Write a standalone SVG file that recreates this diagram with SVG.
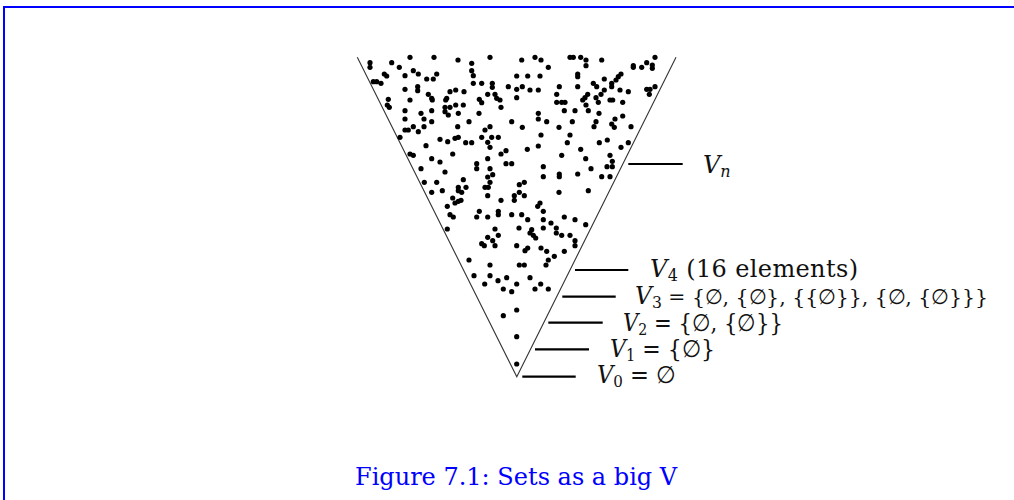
<svg xmlns="http://www.w3.org/2000/svg" width="1014" height="500" viewBox="0 0 1014 500">
<style>
.frame{fill:none;stroke:#0000ff;stroke-width:2}
.v{fill:none;stroke:#333;stroke-width:1.1}
.lead{stroke:#000;stroke-width:2.2}
.lbl{font-family:"DejaVu Serif",serif;font-size:24px;fill:#111}
.it{font-style:italic}
.sub{font-size:16px}
.cap{font-family:"DejaVu Serif",serif;font-size:24px;fill:#0000ff}
</style>
<defs><circle id="d" r="2.6" fill="#000"/></defs>
<rect width="1014" height="500" fill="#fff"/>
<path class="frame" d="M4,500 V7 H1014"/>
<g id="v-shape">
<polyline class="v" points="357.3,57.3 516.8,376.8 676,57.3"/>
<g class="dots">
<use href="#d" x="410" y="57.3"/><use href="#d" x="434" y="57.3"/><use href="#d" x="458" y="60"/><use href="#d" x="490" y="57.3"/>
<use href="#d" x="370" y="62.7"/><use href="#d" x="370" y="67.3"/><use href="#d" x="391.7" y="62.7"/><use href="#d" x="399.3" y="67.3"/>
<use href="#d" x="413.3" y="70.7"/><use href="#d" x="418.3" y="74"/><use href="#d" x="405" y="75.7"/><use href="#d" x="436.7" y="74"/>
<use href="#d" x="426.7" y="79"/><use href="#d" x="433.3" y="79"/><use href="#d" x="384.3" y="74"/><use href="#d" x="386.7" y="76"/>
<use href="#d" x="373.3" y="81.7"/><use href="#d" x="376.7" y="81.7"/><use href="#d" x="381" y="83.3"/><use href="#d" x="471.7" y="63.3"/>
<use href="#d" x="471.7" y="70.7"/><use href="#d" x="473.3" y="75.7"/><use href="#d" x="473.3" y="83.3"/><use href="#d" x="481.7" y="83.3"/>
<use href="#d" x="492.3" y="83.3"/><use href="#d" x="492.3" y="87.3"/><use href="#d" x="508.3" y="86.7"/><use href="#d" x="405" y="89.3"/>
<use href="#d" x="417.7" y="86.7"/><use href="#d" x="417.7" y="90.7"/><use href="#d" x="428.3" y="94.3"/><use href="#d" x="431.7" y="98.3"/>
<use href="#d" x="432.3" y="100"/><use href="#d" x="450" y="91.7"/><use href="#d" x="455.7" y="90"/><use href="#d" x="464" y="91.7"/>
<use href="#d" x="446.7" y="98.3"/><use href="#d" x="445.7" y="100"/><use href="#d" x="487.7" y="94.3"/><use href="#d" x="495" y="94.3"/>
<use href="#d" x="496.7" y="98.3"/><use href="#d" x="500" y="100"/><use href="#d" x="479.3" y="99.3"/><use href="#d" x="481.7" y="102.7"/>
<use href="#d" x="388.3" y="99.3"/><use href="#d" x="387.3" y="105"/><use href="#d" x="389.3" y="107.3"/><use href="#d" x="410" y="100"/>
<use href="#d" x="455.7" y="105"/><use href="#d" x="463.3" y="105"/><use href="#d" x="445" y="107.3"/><use href="#d" x="450" y="107.3"/>
<use href="#d" x="445" y="111.7"/><use href="#d" x="501" y="107.3"/><use href="#d" x="405" y="110.7"/><use href="#d" x="421" y="113.3"/>
<use href="#d" x="431.7" y="110.7"/><use href="#d" x="448.3" y="115"/><use href="#d" x="458.3" y="113.3"/><use href="#d" x="479" y="113.3"/>
<use href="#d" x="405" y="119"/><use href="#d" x="424" y="119"/><use href="#d" x="431.7" y="121.7"/><use href="#d" x="469" y="121.7"/>
<use href="#d" x="511.7" y="121.7"/><use href="#d" x="457.7" y="126.7"/><use href="#d" x="413.3" y="126.7"/><use href="#d" x="424" y="126.7"/>
<use href="#d" x="405" y="130"/><use href="#d" x="408.3" y="130"/><use href="#d" x="418.3" y="131.7"/><use href="#d" x="485" y="130"/>
<use href="#d" x="490" y="126.7"/><use href="#d" x="455" y="138.3"/><use href="#d" x="458.3" y="137.3"/><use href="#d" x="440" y="139.3"/>
<use href="#d" x="447.7" y="141.7"/><use href="#d" x="465.7" y="142.7"/><use href="#d" x="471.7" y="142.7"/><use href="#d" x="481.7" y="137.3"/>
<use href="#d" x="487.7" y="142.3"/><use href="#d" x="491.7" y="137.3"/><use href="#d" x="498.3" y="137.3"/><use href="#d" x="490" y="147.3"/>
<use href="#d" x="426" y="145.7"/><use href="#d" x="400" y="137.3"/>
<use href="#d" x="521.7" y="60"/><use href="#d" x="535" y="57.3"/><use href="#d" x="541" y="60"/><use href="#d" x="548.3" y="67.3"/>
<use href="#d" x="570" y="57.3"/><use href="#d" x="573.3" y="57.3"/><use href="#d" x="580.7" y="57.3"/><use href="#d" x="586" y="60"/>
<use href="#d" x="586" y="65.7"/><use href="#d" x="601.7" y="60"/><use href="#d" x="633.3" y="65.7"/><use href="#d" x="633.3" y="67.3"/>
<use href="#d" x="641.7" y="67.3"/><use href="#d" x="646.7" y="62.7"/><use href="#d" x="652.3" y="65"/><use href="#d" x="652.3" y="68.3"/>
<use href="#d" x="655" y="57.3"/><use href="#d" x="516.7" y="76"/><use href="#d" x="527.7" y="76"/><use href="#d" x="540" y="76"/>
<use href="#d" x="577.7" y="74"/><use href="#d" x="577.7" y="76.7"/><use href="#d" x="604.3" y="79"/><use href="#d" x="621" y="74"/>
<use href="#d" x="618.3" y="76.7"/><use href="#d" x="616" y="80"/><use href="#d" x="516.7" y="89.3"/><use href="#d" x="522.3" y="86.7"/>
<use href="#d" x="530" y="90"/><use href="#d" x="538.3" y="90"/><use href="#d" x="559.3" y="86.7"/><use href="#d" x="577.7" y="86.7"/>
<use href="#d" x="593.3" y="83.3"/><use href="#d" x="596.7" y="86.7"/><use href="#d" x="611.7" y="83.3"/><use href="#d" x="611.7" y="86.7"/>
<use href="#d" x="604.3" y="90"/><use href="#d" x="620" y="90"/><use href="#d" x="628.3" y="91.7"/><use href="#d" x="646.7" y="89.3"/>
<use href="#d" x="650" y="89.3"/><use href="#d" x="655" y="86.7"/><use href="#d" x="649.3" y="94.3"/><use href="#d" x="516.7" y="97.7"/>
<use href="#d" x="556.7" y="94.3"/><use href="#d" x="587.7" y="94.3"/><use href="#d" x="585" y="97.7"/><use href="#d" x="582.7" y="100"/>
<use href="#d" x="601" y="94.3"/><use href="#d" x="596" y="97.7"/><use href="#d" x="610" y="100"/><use href="#d" x="612.7" y="100"/>
<use href="#d" x="556.7" y="102.3"/><use href="#d" x="561.7" y="102.3"/><use href="#d" x="565" y="102.3"/><use href="#d" x="586" y="105"/>
<use href="#d" x="598.3" y="102.3"/><use href="#d" x="622.7" y="102.3"/><use href="#d" x="564.3" y="110.7"/><use href="#d" x="575" y="110.7"/>
<use href="#d" x="588.3" y="110.7"/><use href="#d" x="538.3" y="113.3"/><use href="#d" x="538.3" y="119"/><use href="#d" x="546.7" y="121.7"/>
<use href="#d" x="572.3" y="121.7"/><use href="#d" x="596" y="121.7"/><use href="#d" x="599" y="113.3"/><use href="#d" x="615" y="119"/>
<use href="#d" x="622.7" y="116"/><use href="#d" x="611.7" y="124"/><use href="#d" x="614.3" y="127.3"/><use href="#d" x="522.3" y="127.3"/>
<use href="#d" x="559" y="127.3"/><use href="#d" x="594" y="126.7"/><use href="#d" x="631" y="126.7"/><use href="#d" x="570" y="135"/>
<use href="#d" x="541" y="135"/><use href="#d" x="567.3" y="142.7"/><use href="#d" x="599.3" y="142.7"/><use href="#d" x="607.3" y="140"/>
<use href="#d" x="628.3" y="142.7"/><use href="#d" x="538.3" y="146"/><use href="#d" x="621" y="147.3"/><use href="#d" x="527.3" y="149.3"/>
<use href="#d" x="580.7" y="149.3"/>
<use href="#d" x="410" y="154"/><use href="#d" x="413.3" y="155.3"/><use href="#d" x="452.7" y="154"/><use href="#d" x="431.7" y="158.7"/>
<use href="#d" x="440" y="162"/><use href="#d" x="421" y="168.7"/><use href="#d" x="445" y="172"/><use href="#d" x="476.7" y="163.7"/>
<use href="#d" x="476.7" y="168.7"/><use href="#d" x="487.7" y="158.7"/><use href="#d" x="490" y="168.7"/><use href="#d" x="492.7" y="174.7"/>
<use href="#d" x="487.7" y="177"/><use href="#d" x="490" y="182.3"/><use href="#d" x="501" y="154"/><use href="#d" x="506" y="150.7"/>
<use href="#d" x="506" y="163.7"/><use href="#d" x="511.7" y="163.7"/><use href="#d" x="424.3" y="182.3"/><use href="#d" x="436.7" y="182.3"/>
<use href="#d" x="431.7" y="192.3"/><use href="#d" x="442.3" y="190.7"/><use href="#d" x="463.3" y="179.7"/><use href="#d" x="458.3" y="187.3"/>
<use href="#d" x="458.3" y="190.7"/><use href="#d" x="466" y="187.3"/><use href="#d" x="461.7" y="192.3"/><use href="#d" x="485" y="187.3"/>
<use href="#d" x="488.3" y="187.3"/><use href="#d" x="487.7" y="195.7"/><use href="#d" x="452.7" y="198"/><use href="#d" x="458.3" y="201.3"/>
<use href="#d" x="455" y="203"/><use href="#d" x="461" y="200.3"/><use href="#d" x="501" y="200.3"/><use href="#d" x="514.3" y="195.7"/>
<use href="#d" x="514.3" y="200.3"/><use href="#d" x="447.3" y="206.3"/><use href="#d" x="450" y="214.7"/><use href="#d" x="453.3" y="217"/>
<use href="#d" x="476.7" y="217"/><use href="#d" x="479.3" y="211.3"/><use href="#d" x="487.7" y="217"/><use href="#d" x="498.3" y="211.3"/>
<use href="#d" x="498.3" y="214.7"/><use href="#d" x="511.7" y="214.7"/><use href="#d" x="447.3" y="229"/><use href="#d" x="495" y="229"/>
<use href="#d" x="519" y="228"/><use href="#d" x="498.3" y="235.3"/><use href="#d" x="487.7" y="237.3"/><use href="#d" x="492.7" y="240.7"/>
<use href="#d" x="481.7" y="243.7"/><use href="#d" x="484.3" y="245.7"/><use href="#d" x="495" y="245.7"/><use href="#d" x="516.7" y="245.7"/>
<use href="#d" x="561.7" y="155.3"/><use href="#d" x="585.7" y="158.7"/><use href="#d" x="610" y="155.3"/><use href="#d" x="612.3" y="161.3"/>
<use href="#d" x="607" y="166.7"/><use href="#d" x="612.3" y="166.7"/><use href="#d" x="591" y="168.7"/><use href="#d" x="543.3" y="166.7"/>
<use href="#d" x="543.3" y="176.7"/><use href="#d" x="559.3" y="174"/><use href="#d" x="559.3" y="176.7"/><use href="#d" x="577.7" y="174"/>
<use href="#d" x="601.7" y="176.7"/><use href="#d" x="610" y="176.7"/><use href="#d" x="519.3" y="184.7"/><use href="#d" x="524.3" y="182.3"/>
<use href="#d" x="519.3" y="192.3"/><use href="#d" x="524.3" y="195.7"/><use href="#d" x="559" y="192.3"/><use href="#d" x="588.3" y="190.7"/>
<use href="#d" x="540" y="203"/><use href="#d" x="537.7" y="206.3"/><use href="#d" x="543.3" y="211.3"/><use href="#d" x="521.7" y="214.7"/>
<use href="#d" x="527.7" y="219.7"/><use href="#d" x="564.3" y="217"/><use href="#d" x="575" y="219.7"/><use href="#d" x="543.3" y="219.7"/>
<use href="#d" x="551" y="223"/><use href="#d" x="556.3" y="228"/><use href="#d" x="543.3" y="228"/><use href="#d" x="585.7" y="224.7"/>
<use href="#d" x="531.7" y="229.7"/><use href="#d" x="530" y="233"/><use href="#d" x="533.3" y="235.3"/><use href="#d" x="535.7" y="238"/>
<use href="#d" x="556.3" y="233"/><use href="#d" x="561.7" y="235.3"/><use href="#d" x="570" y="235.3"/><use href="#d" x="575" y="240.7"/>
<use href="#d" x="575" y="245.7"/><use href="#d" x="527.7" y="248"/><use href="#d" x="525" y="250.7"/><use href="#d" x="541" y="248"/>
<use href="#d" x="546.7" y="251.3"/><use href="#d" x="564.3" y="251.3"/><use href="#d" x="554.3" y="256.3"/>
<use href="#d" x="469" y="260"/><use href="#d" x="490" y="265"/><use href="#d" x="519.3" y="265"/><use href="#d" x="524.3" y="265"/>
<use href="#d" x="546" y="265"/><use href="#d" x="548.3" y="260"/><use href="#d" x="474" y="275.7"/><use href="#d" x="490" y="275.7"/>
<use href="#d" x="484.7" y="284"/><use href="#d" x="498" y="280.7"/><use href="#d" x="506.7" y="277.7"/><use href="#d" x="516.7" y="284"/>
<use href="#d" x="503.3" y="289"/><use href="#d" x="511.7" y="291.7"/><use href="#d" x="530" y="277.7"/><use href="#d" x="535" y="289"/>
<use href="#d" x="540.7" y="284"/><use href="#d" x="548.3" y="289"/><use href="#d" x="516.7" y="310"/><use href="#d" x="503.3" y="315.7"/>
<use href="#d" x="516.7" y="336.7"/><use href="#d" x="516.7" y="364"/>
</g>
</g>
<g id="connectors">
<line class="lead" x1="628.3" y1="164" x2="682.7" y2="164"/>
<line class="lead" x1="575" y1="270" x2="628.3" y2="270"/>
<line class="lead" x1="562.3" y1="296.7" x2="615.7" y2="296.7"/>
<line class="lead" x1="548.3" y1="322.7" x2="602.7" y2="322.7"/>
<line class="lead" x1="535" y1="349.3" x2="589" y2="349.3"/>
<line class="lead" x1="522.3" y1="376.7" x2="575.7" y2="376.7"/>
</g>
<g id="label-vn"><text class="lbl" x="703" y="173"><tspan class="it">V</tspan><tspan class="it sub" dy="4">n</tspan></text></g>
<g id="label-v4"><text class="lbl" x="650" y="277" textLength="208" lengthAdjust="spacing"><tspan class="it">V</tspan><tspan class="sub" dy="4">4</tspan><tspan dy="-4"> (16 elements)</tspan></text></g>
<g id="label-v3"><text class="lbl" x="635" y="304" textLength="353" lengthAdjust="spacingAndGlyphs"><tspan class="it">V</tspan><tspan class="sub" dy="4">3</tspan><tspan dy="-4" font-size="21"> = {∅, {∅}, {{∅}}, {∅, {∅}}}</tspan></text></g>
<g id="label-v2"><text class="lbl" x="623" y="331" textLength="160" lengthAdjust="spacingAndGlyphs"><tspan class="it">V</tspan><tspan class="sub" dy="4">2</tspan><tspan dy="-4"> = {∅, {∅}}</tspan></text></g>
<g id="label-v1"><text class="lbl" x="610" y="357" textLength="105" lengthAdjust="spacingAndGlyphs"><tspan class="it">V</tspan><tspan class="sub" dy="4">1</tspan><tspan dy="-4"> = {∅}</tspan></text></g>
<g id="label-v0"><text class="lbl" x="597" y="383" textLength="79" lengthAdjust="spacingAndGlyphs"><tspan class="it">V</tspan><tspan class="sub" dy="4">0</tspan><tspan dy="-4"> = ∅</tspan></text></g>
<g id="caption"><text class="cap" x="355" y="485">Figure 7.1: Sets as a big V</text></g>
</svg>
